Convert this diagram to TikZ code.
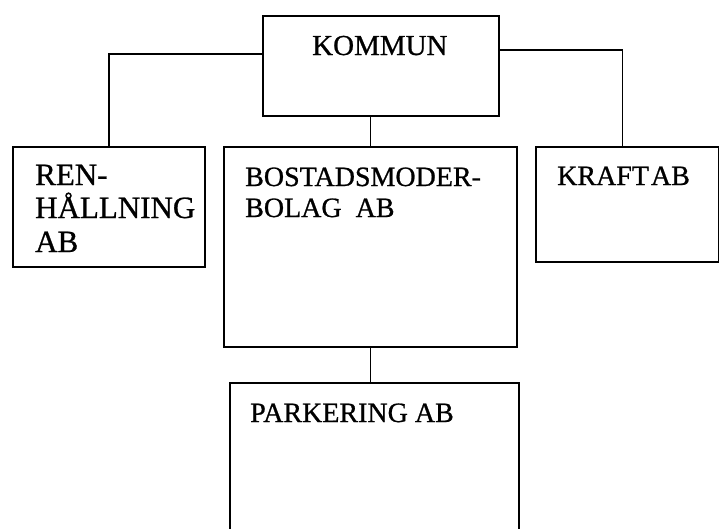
\documentclass[tikz,border=0pt]{standalone}
\usepackage{fontspec}
\setmainfont{Liberation Serif}[FakeBold=0.8]
\begin{document}
\begin{tikzpicture}[x=1pt,y=-1pt,
  box/.style={draw,line width=1.8pt,rectangle,inner sep=0pt,anchor=north west},
  lbl/.style={anchor=base west,inner sep=0pt,font=\fontsize{28}{33}\selectfont},
  conn/.style={line width=1.6pt}]
\clip (0,0) rectangle (719,528);
\fill[white] (0,0) rectangle (719,528);
\node[box,minimum width=236pt,minimum height=100pt] (kommun) at (262,15) {};
\node[box,minimum width=192pt,minimum height=120pt] (ren) at (12,146) {};
\node[box,minimum width=293pt,minimum height=200pt] (bostad) at (223,146) {};
\node[box,minimum width=183pt,minimum height=115pt] (kraft) at (535,146) {};
\node[box,minimum width=289pt,minimum height=160pt] (park) at (229,382) {};
\node[lbl,font=\fontsize{29}{33}\selectfont] (tk) at (312,55) {KOMMUN};
\node[lbl,font=\fontsize{31}{33}\selectfont] (tr1) at (35,185) {REN-};
\node[lbl,font=\fontsize{31}{33}\selectfont] (tr2) at (35,218) {HÅLLNING};
\node[lbl,font=\fontsize{31}{33}\selectfont] (tr3) at (35,252) {AB};
\node[lbl] (tb1) at (245,186) {BOSTADSMODER-};
\node[lbl] (tb2) at (245,217) {BOLAG\ \ AB};
\node[lbl] (tkr) at (557,185) {KRAFT\hspace{2pt}AB};
\node[lbl] (tp) at (250,422) {PARKERING AB};
\draw[conn] ([yshift=12pt]kommun.west) -| (ren.north);
\draw[conn] ([yshift=16pt]kommun.east) -| ([xshift=-5pt]kraft.north);
\draw[conn] (bostad.north) -- (bostad.north |- kommun.south);
\draw[conn] (bostad.south) -- (bostad.south |- park.north);
\end{tikzpicture}
\end{document}
